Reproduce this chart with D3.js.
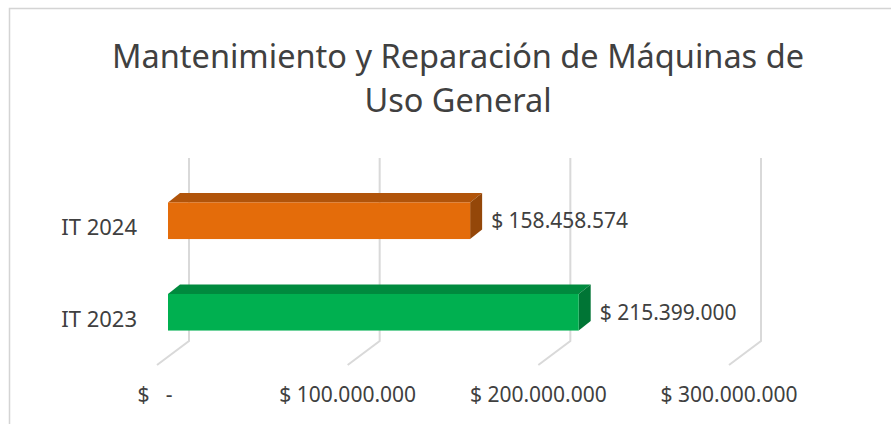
<!DOCTYPE html>
<html>
<head>
<meta charset="utf-8">
<script src="https://cdn.jsdelivr.net/npm/d3@7"></script>
<style>
  body { margin: 0; background: #fff; }
  text { font-family: "Noto Sans", "Open Sans", sans-serif; fill: #404040; }
</style>
</head>
<body>
<div id="chart"></div>
<script>
// Data
var categories = ["IT 2024", "IT 2023"];
var values = [158458574, 215399000];
var labels = ["$ 158.458.574", "$ 215.399.000"];
var tickValues = [0, 100000000, 200000000, 300000000];
var tickLabels = ["$\u00a0\u00a0\u00a0-", "$ 100.000.000", "$ 200.000.000", "$ 300.000.000"];
var titleLines = ["Mantenimiento y Reparación de Máquinas de", "Uso General"];

var colors = [
  { front: "#E46C0A", top: "#B1540A", side: "#944709" },
  { front: "#00B050", top: "#008A3E", side: "#007535" }
];

var svgWidth = 891;
var svgHeight = 424;

var svg = d3.select("#chart")
  .append("svg")
  .attr("width", svgWidth)
  .attr("height", svgHeight);

// chart border (right and bottom edges fall outside the picture)
svg.append("rect")
  .attr("x", 9.5).attr("y", 8.5)
  .attr("width", 1000).attr("height", 600)
  .attr("fill", "none")
  .attr("stroke", "#D4D4D4")
  .attr("stroke-width", 1.5);

// title
svg.append("text")
  .attr("text-anchor", "middle")
  .style("font-size", "32.5px")
  .selectAll("tspan")
  .data(titleLines)
  .enter()
  .append("tspan")
    .attr("x", 458)
    .attr("y", (d, i) => 68 + i * 44)
    .text(d => d);

// back plane scales
var xScale = d3.scaleLinear()
  .domain([0, 300000000])
  .range([189, 761]);

var yScale = d3.scaleBand()
  .domain(categories)
  .range([158, 341])
  .paddingInner(0.6)
  .paddingOuter(0.3);

// oblique offsets from the back plane
var floorFront = { dx: -32, dy: 24 };
var barFront = { dx: -21, dy: 17 };
var barBack = { dx: -9, dy: 7.5 };

// gridlines: vertical on back wall, then diagonal across the floor
var grid = svg.append("g");
tickValues.forEach(function(v) {
  var x = xScale(v);
  grid.append("path")
    .attr("d", `M${x},${yScale.range()[0]} L${x},${yScale.range()[1]} L${x + floorFront.dx},${yScale.range()[1] + floorFront.dy}`)
    .attr("fill", "none")
    .attr("stroke", "#D9D9D9")
    .attr("stroke-width", 2);
});

// tick labels at the front edge of the floor
svg.append("g")
  .selectAll("text")
  .data(tickValues)
  .enter()
  .append("text")
    .attr("x", d => xScale(d) + floorFront.dx - (d === 0 ? 2 : 0))
    .attr("y", 402)
    .attr("text-anchor", "middle")
    .style("font-size", "21px")
    .text((d, i) => tickLabels[i]);

// category labels
svg.append("g")
  .selectAll("text")
  .data(categories)
  .enter()
  .append("text")
    .attr("x", xScale(0) + floorFront.dx - 20)
    .attr("y", d => yScale(d) + yScale.bandwidth() / 2 + floorFront.dy)
    .attr("dy", "0.35em")
    .attr("text-anchor", "end")
    .style("font-size", "22px")
    .text(d => d);

// 3D bars
var bars = svg.append("g");
categories.forEach(function(c, i) {
  var x0 = xScale(0), x1 = xScale(values[i]);
  var y0 = yScale(c), y1 = y0 + yScale.bandwidth();
  var col = colors[i];
  var f = barFront, b = barBack;
  // top face
  bars.append("path")
    .attr("d", `M${x0 + f.dx},${y0 + f.dy} L${x0 + b.dx},${y0 + b.dy} L${x1 + b.dx},${y0 + b.dy} L${x1 + f.dx},${y0 + f.dy}Z`)
    .attr("fill", col.top);
  // side face
  bars.append("path")
    .attr("d", `M${x1 + f.dx},${y0 + f.dy} L${x1 + b.dx},${y0 + b.dy} L${x1 + b.dx},${y1 + b.dy} L${x1 + f.dx},${y1 + f.dy}Z`)
    .attr("fill", col.side);
  // front face
  bars.append("rect")
    .attr("x", x0 + f.dx)
    .attr("y", y0 + f.dy)
    .attr("width", x1 - x0)
    .attr("height", y1 - y0)
    .attr("fill", col.front);
  // data label
  bars.append("text")
    .attr("x", x1 + b.dx + 9)
    .attr("y", (y0 + y1) / 2 + f.dy)
    .attr("dy", "0.35em")
    .style("font-size", "21px")
    .text(labels[i]);
});
</script>
</body>
</html>
